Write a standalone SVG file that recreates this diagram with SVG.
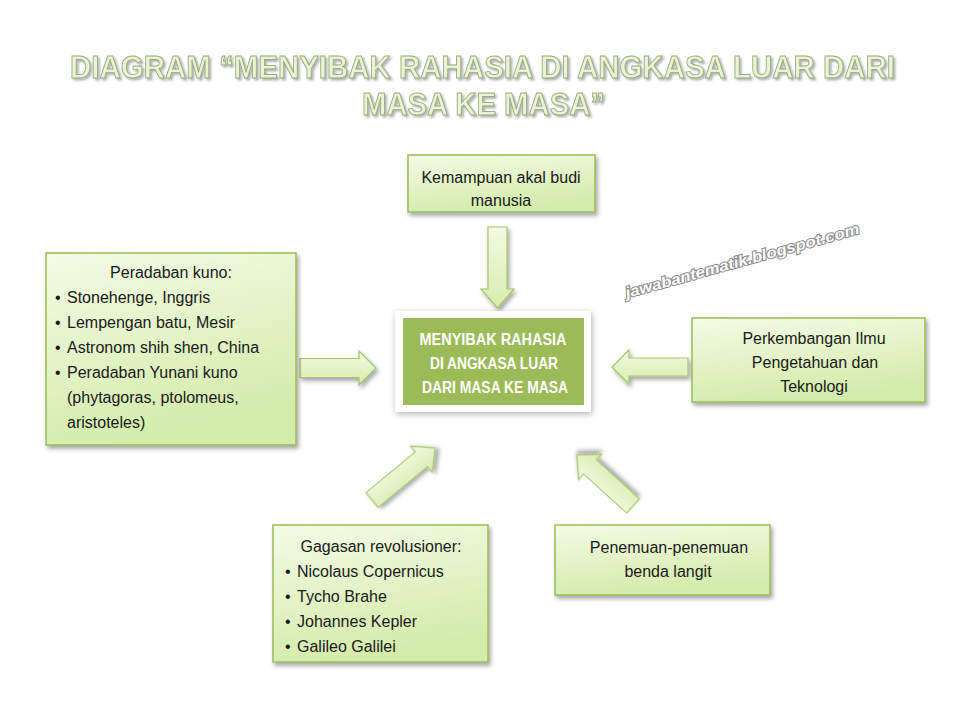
<svg xmlns="http://www.w3.org/2000/svg" width="960" height="720" viewBox="0 0 960 720">
  <defs>
    <linearGradient id="boxGrad" x1="0" y1="0" x2="0.3" y2="1">
      <stop offset="0" stop-color="#f5fbe6"/>
      <stop offset="1" stop-color="#d3ecab"/>
    </linearGradient>
    <linearGradient id="arrowGrad" x1="0" y1="0" x2="0" y2="1">
      <stop offset="0" stop-color="#f3fadf"/>
      <stop offset="1" stop-color="#d6edb2"/>
    </linearGradient>
    <filter id="shadow" x="-10%" y="-10%" width="125%" height="130%">
      <feDropShadow dx="2" dy="3" stdDeviation="2" flood-color="#000" flood-opacity="0.35"/>
    </filter>
    <filter id="glow" x="-10%" y="-15%" width="120%" height="135%">
      <feDropShadow dx="1" dy="2" stdDeviation="3" flood-color="#000" flood-opacity="0.3"/>
    </filter>
    <filter id="titleShadow" x="-5%" y="-30%" width="110%" height="170%">
      <feDropShadow dx="2" dy="2" stdDeviation="1" flood-color="#777" flood-opacity="0.55"/>
    </filter>
    <style>
      .box { fill: url(#boxGrad); stroke: #9bbb59; stroke-width: 1.5; filter: url(#shadow); }
      .arrow { fill: url(#arrowGrad); stroke: #a6c46a; stroke-width: 1.2; filter: url(#shadow); }
      .t { font-family: "Liberation Sans", Arial, sans-serif; font-size: 16px; fill: #1a1a1a; }
      .c { text-anchor: middle; }
      .ct { font-family: "Liberation Sans", Arial, sans-serif; font-size: 16px; font-weight: bold; fill: #ffffff; text-anchor: middle; }
      .title { font-family: "Liberation Sans", Arial, sans-serif; font-size: 31px; font-weight: bold; fill: #eaf4d4; stroke: #98aa7e; stroke-width: 0.9; filter: url(#titleShadow); }
      .wm { font-family: "Liberation Sans", Arial, sans-serif; font-size: 15px; font-weight: bold; font-style: italic; fill: #ffffff; stroke: #8a8a8a; stroke-width: 2; paint-order: stroke; }
    </style>
  </defs>

  <rect width="960" height="720" fill="#ffffff"/>

  <g id="title">
    <text class="title" x="70" y="78" textLength="825" lengthAdjust="spacingAndGlyphs">DIAGRAM “MENYIBAK RAHASIA DI ANGKASA LUAR DARI</text>
    <text class="title" x="362" y="115" textLength="243" lengthAdjust="spacingAndGlyphs">MASA KE MASA”</text>
  </g>

  <g id="watermark">
    <text class="wm" transform="translate(627,298) rotate(-15.5)" textLength="242" lengthAdjust="spacingAndGlyphs">jawabantematik.blogspot.com</text>
  </g>

  <g id="connectors">
    <path class="arrow" d="M488,227 V289 H481 L497.5,308 L514,289 H507 V227 Z"/>
    <path class="arrow" d="M300,358.5 H359 V351 L376,368 L359,385 V377.5 H300 Z"/>
    <path class="arrow" d="M688,358 H629 V350 L612,367 L629,384 V376 H688 Z"/>
    <path class="arrow" transform="translate(372,500) rotate(-39.5)" d="M0,-9.5 H64 V-17 L82,0 L64,17 V9.5 H0 Z"/>
    <path class="arrow" transform="translate(633,506) rotate(-137.7)" d="M0,-9.5 H58 V-17 L76,0 L58,17 V9.5 H0 Z"/>
  </g>

  <g id="node-center">
    <rect x="395" y="311" width="196" height="101" fill="#ffffff" filter="url(#glow)"/>
    <rect x="403" y="318" width="181" height="87" fill="#9bbb59"/>
    <text class="ct" x="493" y="345" textLength="147" lengthAdjust="spacingAndGlyphs">MENYIBAK RAHASIA</text>
    <text class="ct" x="494" y="369" textLength="128" lengthAdjust="spacingAndGlyphs">DI ANGKASA LUAR</text>
    <text class="ct" x="495" y="393" textLength="146" lengthAdjust="spacingAndGlyphs">DARI MASA KE MASA</text>
  </g>

  <g id="node-akal">
    <rect class="box" x="408" y="155" width="187" height="57"/>
    <text class="t c" x="501" y="183">Kemampuan akal budi</text>
    <text class="t c" x="501" y="206">manusia</text>
  </g>

  <g id="node-peradaban">
    <rect class="box" x="46" y="253" width="250" height="192"/>
    <text class="t c" x="171" y="278">Peradaban kuno:</text>
    <text class="t" x="55" y="303">•</text><text class="t" x="67" y="303">Stonehenge, Inggris</text>
    <text class="t" x="55" y="328">•</text><text class="t" x="67" y="328">Lempengan batu, Mesir</text>
    <text class="t" x="55" y="353">•</text><text class="t" x="67" y="353">Astronom shih shen, China</text>
    <text class="t" x="55" y="378">•</text><text class="t" x="67" y="378">Peradaban Yunani kuno</text>
    <text class="t" x="67" y="403">(phytagoras, ptolomeus,</text>
    <text class="t" x="67" y="428">aristoteles)</text>
  </g>

  <g id="node-iptek">
    <rect class="box" x="692" y="318" width="233" height="84"/>
    <text class="t c" x="814" y="344">Perkembangan Ilmu</text>
    <text class="t c" x="815" y="368">Pengetahuan dan</text>
    <text class="t c" x="814" y="392">Teknologi</text>
  </g>

  <g id="node-gagasan">
    <rect class="box" x="273" y="525" width="215" height="137"/>
    <text class="t c" x="381" y="552">Gagasan revolusioner:</text>
    <text class="t" x="285" y="577">•</text><text class="t" x="297" y="577">Nicolaus Copernicus</text>
    <text class="t" x="285" y="602">•</text><text class="t" x="297" y="602">Tycho Brahe</text>
    <text class="t" x="285" y="627">•</text><text class="t" x="297" y="627">Johannes Kepler</text>
    <text class="t" x="285" y="652">•</text><text class="t" x="297" y="652">Galileo Galilei</text>
  </g>

  <g id="node-penemuan">
    <rect class="box" x="555" y="525" width="215" height="70"/>
    <text class="t c" x="669" y="553">Penemuan-penemuan</text>
    <text class="t c" x="668" y="577">benda langit</text>
  </g>
</svg>
